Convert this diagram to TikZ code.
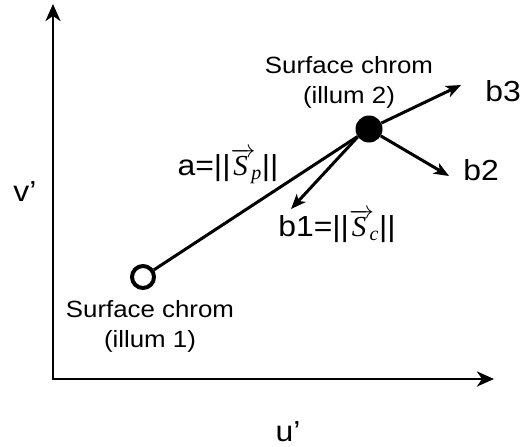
\documentclass[tikz,border=0pt]{standalone}
\usepackage{fontspec}
\setmainfont{Liberation Sans}[FakeStretch=1.1]
\newfontfamily\serfam{Liberation Serif}
\newcommand{\vecS}[1]{$\overrightarrow{\mbox{\serfam\itshape S\,}}\!_{\mbox{\serfam\itshape\fontsize{20}{20}\selectfont #1}}$}
\usetikzlibrary{arrows.meta}
\begin{document}
\begin{tikzpicture}[x=1pt,y=-1pt,
  lbl/.style={font=\fontsize{23.5}{30}\selectfont, inner sep=0pt, align=center},
  big/.style={font=\fontsize{29}{34}\selectfont, inner sep=0pt},
  axis/.style={line width=2.8pt, -{Stealth[length=17pt,width=15pt,inset=5pt]}},
  vec/.style={line width=3pt, -{Stealth[length=15pt,width=12pt,inset=4pt]}},
  conn/.style={line width=3pt}]
\useasboundingbox (0,0) rectangle (522,447);
\coordinate (o) at (53,379);
\coordinate (ytip) at (53,4);
\coordinate (xtip) at (494,379);
\draw[axis] ([yshift=1.4pt]o) -- (ytip);
\draw[axis] ([xshift=-1.4pt]o) -- (xtip);
\node[big] (v) at (25,192) {v’};
\node[big] (u) at (288,432) {u’};
\node[circle, draw, line width=4pt, minimum size=22pt, inner sep=0pt] (p1) at (143,277) {};
\node[circle, fill, minimum size=27pt, inner sep=0pt] (p2) at (369,129) {};
\coordinate (b3) at (461,85);
\coordinate (b2) at (449,176);
\coordinate (b1) at (291,209);
\draw[conn] (p1) -- (p2);
\draw[vec] (p2) -- (b3);
\draw[vec] (p2) -- (b2);
\draw[vec] (p2.215) -- (b1);
\node[lbl] (t2) at (349,82) {Surface chrom\\(illum 2)};
\node[lbl] (t1) at (150,326) {Surface chrom\\(illum 1)};
\node[big] (lb3) at (503,91) {b3};
\node[big] (lb2) at (481,170) {b2};
\node[big] (la) at (228,166) {a=||\vecS{p}||};
\node[big] (lb1) at (337,226) {b1=||\vecS{c}||};
\end{tikzpicture}
\end{document}
